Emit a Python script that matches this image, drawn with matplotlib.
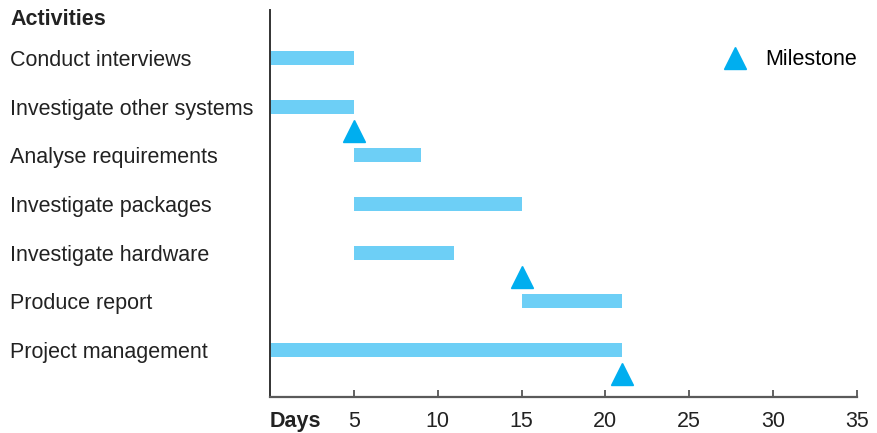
import matplotlib
matplotlib.use('Agg')
from matplotlib import pyplot as plt
import matplotlib.transforms as mtransforms

activities = ["Conduct interviews", "Investigate other systems", "Analyse requirements",
              "Investigate packages", "Investigate hardware", "Produce report", "Project management"]
starts = [0, 0, 5, 5, 5, 15, 0]
ends = [5, 5, 9, 15, 11, 21, 21]
milestoneDays = [5, 15, 21]
milestoneRows = [1.5, 4.5, 6.5]
dayTicks = [5, 10, 15, 20, 25, 30, 35]

plt.rcParams['font.family'] = ['Liberation Sans', 'DejaVu Sans']
fs = 15.5

fig = plt.figure(figsize=(8.77, 4.33), dpi=100)
ax = fig.add_axes([270/877., 1-397/433., 587/877., 387/433.])

rows = list(range(len(activities)))
widths = [e - s for s, e in zip(starts, ends)]
ax.barh(rows, widths, left=starts, height=0.29, color='#6dcff6')
ax.plot(milestoneDays, milestoneRows, linestyle='none', marker='^', markersize=16,
        color='#00aeef', label='Milestone', clip_on=False)

ax.set_xlim(0, 35)
ax.set_ylim(6.97, -0.99)
ax.set_xticks(dayTicks)
ax.set_xticklabels([str(d) for d in dayTicks], fontsize=fs, color='#222222')
ax.tick_params(axis='x', direction='in', length=5, width=1.3, color='#555555', pad=10)
ax.set_yticks([])
for side in ['top', 'right']:
	ax.spines[side].set_visible(False)
ax.spines['left'].set_color('#333333')
ax.spines['left'].set_linewidth(1.4)
ax.spines['bottom'].set_color('#5a5a5a')
ax.spines['bottom'].set_linewidth(1.6)

ax.text(0, -14/387., "Days", transform=ax.get_xaxis_transform(), ha='left', va='top',
        fontsize=fs, fontweight='bold', color='#222222')

trans = mtransforms.blended_transform_factory(fig.transFigure, ax.transData)
for r, name in zip(rows, activities):
	fig.text(10/877., r, name, transform=trans, ha='left', va='center_baseline', fontsize=fs, color='#222222')
fig.text(10/877., 1-17/433., "Activities", ha='left', va='center_baseline', fontsize=fs,
         fontweight='bold', color='#222222')

ax.legend(loc='center right', bbox_to_anchor=(1.0, 1-50/387.), frameon=False, fontsize=fs,
          handletextpad=0.8, borderaxespad=0, borderpad=0, handlelength=1.2)

plt.savefig('out.png', dpi=100)
